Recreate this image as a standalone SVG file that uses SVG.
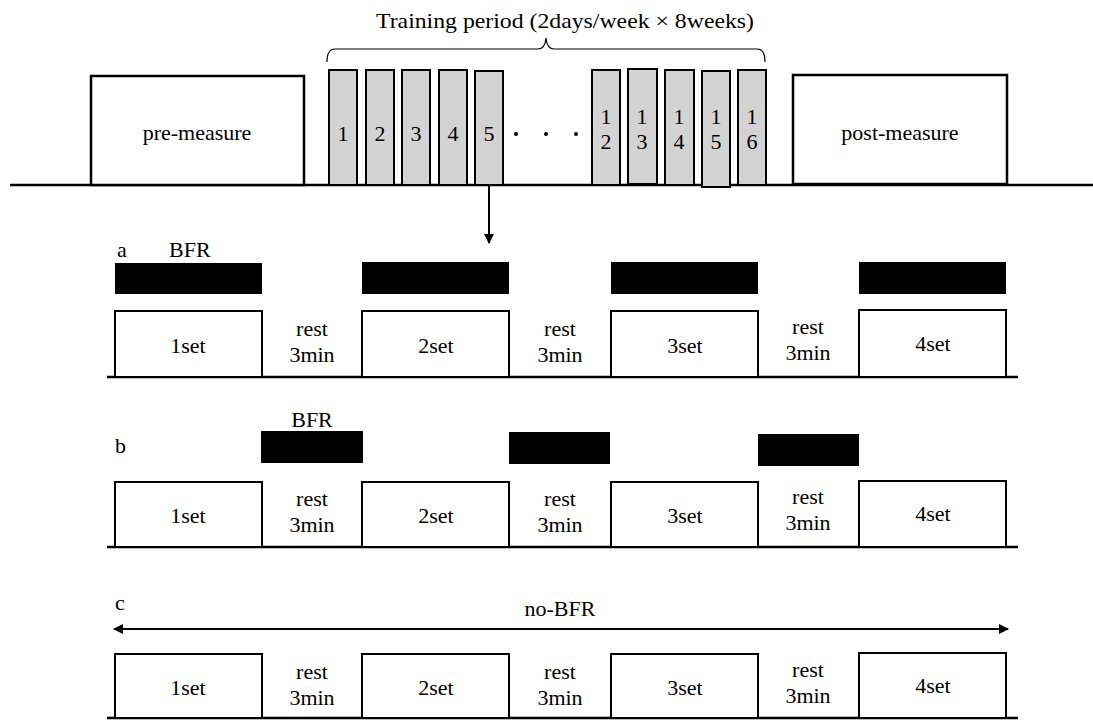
<svg xmlns="http://www.w3.org/2000/svg" width="1093" height="720" viewBox="0 0 1093 720">
<defs>
<style>
text{font-family:"Liberation Serif","Times New Roman",serif;font-size:22px;fill:#000}
.c{text-anchor:middle}
.day{fill:#d3d3d3;stroke:#000;stroke-width:2}
.box{fill:#fff;stroke:#000;stroke-width:2.5}
.set{fill:#fff;stroke:#000;stroke-width:2}
.bfr{fill:#000}
.ln{stroke:#000;stroke-width:2.5;fill:none}
</style>
<marker id="ah" viewBox="0 0 10 10" refX="9" refY="5" markerWidth="10" markerHeight="10" markerUnits="userSpaceOnUse" orient="auto-start-reverse">
<path d="M0,0 L10,5 L0,10 z" fill="#000"/>
</marker>
</defs>
<rect width="1093" height="720" fill="#fff"/>

<g id="title">
<text x="376" y="28" textLength="378" lengthAdjust="spacingAndGlyphs">Training period (2days/week × 8weeks)</text>
<path d="M327,62 Q327,49 335,49 L538,49 Q545,49 546,38 Q547,49 554,49 L757,49 Q765,49 765,62" fill="none" stroke="#000" stroke-width="1.2"/>
</g>

<g id="connectors">
<line class="ln" x1="10" y1="185" x2="1093" y2="185"/>
<line x1="489" y1="186" x2="489" y2="243" stroke="#000" stroke-width="2" marker-end="url(#ah)"/>
<line class="ln" x1="107" y1="377" x2="1018" y2="377"/>
<line class="ln" x1="107" y1="547" x2="1018" y2="547"/>
<line class="ln" x1="107" y1="718" x2="1018" y2="718"/>
<line x1="114" y1="629" x2="1008" y2="629" stroke="#000" stroke-width="2" marker-start="url(#ah)" marker-end="url(#ah)"/>
</g>

<g id="pre-measure">
<rect class="box" x="91" y="76" width="213" height="109"/>
<text class="c" x="197" y="140">pre-measure</text>
</g>

<g id="days">
<rect class="day" x="329" y="70" width="28" height="115"/><text class="c" x="343" y="141">1</text>
<rect class="day" x="366" y="70" width="28" height="115"/><text class="c" x="380" y="141">2</text>
<rect class="day" x="402" y="70" width="28" height="115"/><text class="c" x="416" y="141">3</text>
<rect class="day" x="439" y="70" width="28" height="115"/><text class="c" x="453" y="141">4</text>
<rect class="day" x="475" y="71" width="28" height="114"/><text class="c" x="489" y="141">5</text>
<circle cx="516" cy="134" r="2"/><circle cx="546" cy="134" r="2"/><circle cx="576" cy="134" r="2"/>
<rect class="day" x="592" y="70" width="28" height="115"/><text class="c" x="606" y="124">1</text><text class="c" x="606" y="149">2</text>
<rect class="day" x="628" y="69" width="29" height="115"/><text class="c" x="642" y="124">1</text><text class="c" x="642" y="149">3</text>
<rect class="day" x="665" y="70" width="29" height="115"/><text class="c" x="679" y="124">1</text><text class="c" x="679" y="149">4</text>
<rect class="day" x="702" y="71" width="28" height="116"/><text class="c" x="716" y="124">1</text><text class="c" x="716" y="149">5</text>
<rect class="day" x="738" y="70" width="28" height="115"/><text class="c" x="752" y="124">1</text><text class="c" x="752" y="149">6</text>
</g>

<g id="post-measure">
<rect class="box" x="793" y="75" width="214" height="109"/>
<text class="c" x="900" y="140">post-measure</text>
</g>

<g id="protocol-a">
<text x="117" y="257">a</text>
<text x="169" y="257">BFR</text>
<rect class="bfr" x="115" y="263" width="147" height="31"/>
<rect class="bfr" x="362" y="262" width="147" height="32"/>
<rect class="bfr" x="611" y="262" width="147" height="32"/>
<rect class="bfr" x="859" y="262" width="147" height="32"/>
<rect class="set" x="115" y="311" width="147" height="66"/><text class="c" x="188" y="353">1set</text>
<rect class="set" x="362" y="311" width="147" height="66"/><text class="c" x="436" y="353">2set</text>
<rect class="set" x="611" y="311" width="147" height="66"/><text class="c" x="685" y="353">3set</text>
<rect class="set" x="859" y="310" width="147" height="67"/><text class="c" x="933" y="351">4set</text>
<text class="c" x="312" y="336">rest</text><text class="c" x="312" y="362">3min</text>
<text class="c" x="560" y="336">rest</text><text class="c" x="560" y="362">3min</text>
<text class="c" x="808" y="334">rest</text><text class="c" x="808" y="360">3min</text>
</g>

<g id="protocol-b">
<text x="115" y="453">b</text>
<text class="c" x="312" y="427">BFR</text>
<rect class="bfr" x="261" y="431" width="102" height="32"/>
<rect class="bfr" x="509" y="432" width="101" height="32"/>
<rect class="bfr" x="758" y="434" width="101" height="32"/>
<rect class="set" x="115" y="482" width="147" height="65"/><text class="c" x="188" y="523">1set</text>
<rect class="set" x="362" y="482" width="147" height="65"/><text class="c" x="436" y="523">2set</text>
<rect class="set" x="611" y="482" width="147" height="65"/><text class="c" x="685" y="523">3set</text>
<rect class="set" x="859" y="481" width="147" height="66"/><text class="c" x="933" y="521">4set</text>
<text class="c" x="312" y="506">rest</text><text class="c" x="312" y="532">3min</text>
<text class="c" x="560" y="506">rest</text><text class="c" x="560" y="532">3min</text>
<text class="c" x="808" y="504">rest</text><text class="c" x="808" y="530">3min</text>
</g>

<g id="protocol-c">
<text x="115" y="610">c</text>
<text class="c" x="560" y="616">no-BFR</text>
<rect class="set" x="115" y="654" width="147" height="64"/><text class="c" x="188" y="695">1set</text>
<rect class="set" x="362" y="654" width="147" height="64"/><text class="c" x="436" y="695">2set</text>
<rect class="set" x="611" y="654" width="147" height="64"/><text class="c" x="685" y="695">3set</text>
<rect class="set" x="859" y="653" width="147" height="65"/><text class="c" x="933" y="693">4set</text>
<text class="c" x="312" y="679">rest</text><text class="c" x="312" y="705">3min</text>
<text class="c" x="560" y="679">rest</text><text class="c" x="560" y="705">3min</text>
<text class="c" x="808" y="677">rest</text><text class="c" x="808" y="703">3min</text>
</g>
</svg>
